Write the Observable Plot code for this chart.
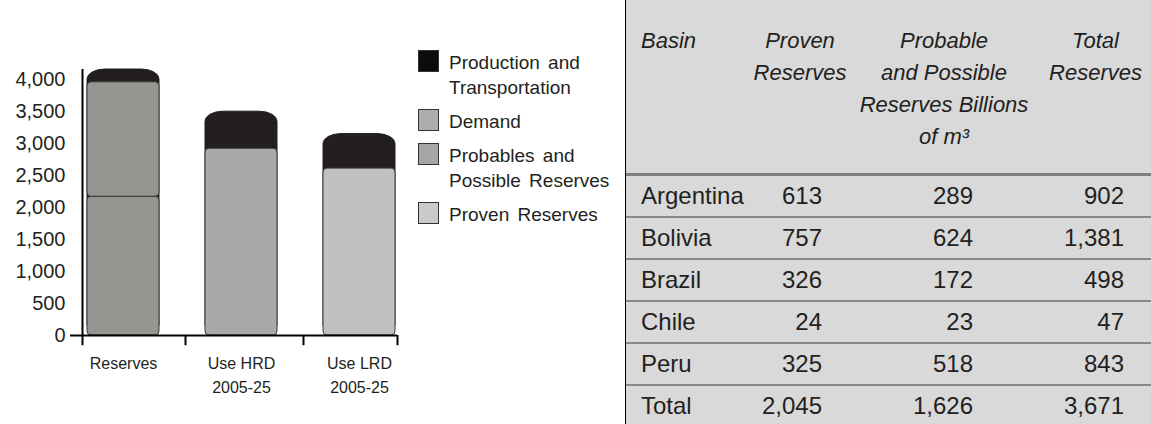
<!DOCTYPE html>
<html><head><meta charset="utf-8">
<script src="https://cdn.jsdelivr.net/npm/d3@7"></script>
<script src="https://cdn.jsdelivr.net/npm/@observablehq/plot@0.6"></script>
<style>
body{margin:0;background:#fff;font-family:"Liberation Sans",Arial,sans-serif;color:#231f20}
#wrap{position:relative;width:1151px;height:424px;overflow:hidden;background:#fff}
#chart{position:absolute;left:0;top:0}
#legend{position:absolute;left:418px;top:50px;font-size:19px;line-height:25px;word-spacing:3px}
.item{display:flex;align-items:flex-start;margin-bottom:9px}
.sw{width:21px;height:22px;border:1px solid #333;box-sizing:border-box;margin-right:10px;flex:none}
.lbl{white-space:pre-line}
#tbl{position:absolute;left:625px;top:0;width:526px;height:424px;background:#d9d9d9;border-left:1px solid #000;box-sizing:border-box}
table{border-collapse:separate;border-spacing:0;table-layout:fixed;width:525px}
th{font-style:italic;font-weight:normal;font-size:22px;line-height:32px;vertical-align:top;padding:25px 0 0 0;height:148px;border-bottom:3px solid #7f7f7f;text-align:center;white-space:pre-line}
th.c0{text-align:left;padding-left:15px}
td{font-size:24px;height:40px;padding:0;border-bottom:2px solid #888;text-align:right;vertical-align:middle}
td.c0{text-align:left;padding-left:15px}
td.c1{padding-right:26px}
td.c2{padding-right:67px}
td.c3{padding-right:27px}
tr:last-child td{border-bottom:none}
</style>
</head><body>
<div id="wrap">
  <div id="chart"></div>
  <div id="legend"></div>
  <div id="tbl"></div>
</div>
<script>
// ---- chart data (billions of m3) ----
const bars = ["Reserves", "Use HRD\n2005-25", "Use LRD\n2005-25"];
const provenValues = [2170, 0, 0];
const probableValues = [1790, 0, 0];
const demandValues = [0, 2920, 2610];
const productionValues = [200, 580, 540];
const yTicks = [0, 500, 1000, 1500, 2000, 2500, 3000, 3500, 4000];

// legend
const legendLabels = ["Production and\nTransportation", "Demand", "Probables and\nPossible Reserves", "Proven Reserves"];
const legendColors = ["#0d0b0c", "#adadad", "#a6a6a6", "#cacaca"];

// ---- table data ----
const headers = ["Basin", "Proven\nReserves", "Probable\nand Possible\nReserves Billions\nof m³", "Total\nReserves"];
const basins = ["Argentina", "Bolivia", "Brazil", "Chile", "Peru", "Total"];
const provenRes = [613, 757, 326, 24, 325, 2045];
const probableRes = [289, 624, 172, 23, 518, 1626];
const totalRes = [902, 1381, 498, 47, 843, 3671];

// build segments
const segments = [];
bars.forEach((b, i) => {
  if (provenValues[i]) segments.push({bar: b, series: "Proven Reserves", value: provenValues[i]});
  if (probableValues[i]) segments.push({bar: b, series: "Probables and Possible Reserves", value: probableValues[i]});
  if (demandValues[i]) segments.push({bar: b, series: "Demand", value: demandValues[i]});
});
const totals = bars.map((b, i) => ({bar: b, total: provenValues[i] + probableValues[i] + demandValues[i] + productionValues[i]}));
const yMax = d3.max(totals, d => d.total);

const chart = Plot.plot({
  width: 410, height: 424,
  marginLeft: 82, marginRight: 13, marginTop: 69, marginBottom: 89,
  style: {fontFamily: "'Liberation Sans', Arial, sans-serif", color: "#231f20", background: "transparent"},
  x: {domain: bars, range: [82, 400], paddingInner: 0.39, paddingOuter: 0.04, axis: null},
  y: {domain: [0, yMax], axis: null},
  color: {domain: bars, range: ["#979592", "#a9a9a9", "#c1c1c1"]},
  marks: [
    Plot.barY(totals, {x: "bar", y: "total", fill: "#231f20", stroke: "#231f20", rx: 18, ry: 10}),
    Plot.barY(segments, {x: "bar", y: "value", fill: "bar", stroke: "#3a3a3a", strokeWidth: 1, rx: 4}),
    Plot.ruleY([0], {stroke: "#000", strokeWidth: 2}),
    Plot.ruleX(bars.slice(0, 1), {dx: -41, y1: -160, y2: yMax, stroke: "#000", strokeWidth: 2}),
    Plot.ruleX(bars.slice(0, -1), {dx: 62, y1: 0, y2: -160, stroke: "#000", strokeWidth: 2}),
    Plot.ruleX(bars.slice(-1), {dx: 38, y1: 0, y2: -160, stroke: "#000", strokeWidth: 2}),
    Plot.axisY({ticks: yTicks, tickSize: 0, tickPadding: 17, tickFormat: d3.format(","), fontSize: 20, label: null}),
    Plot.axisY({ticks: [0], tickSize: 12, tickFormat: () => "", strokeWidth: 2, stroke: "#000", label: null}),
    Plot.axisX({tickSize: 0, tickPadding: 16, fontSize: 16, lineHeight: 1.5, label: null})
  ]
});
document.getElementById("chart").append(chart);

// legend
const lg = document.getElementById("legend");
legendLabels.forEach((l, i) => {
  const it = document.createElement("div"); it.className = "item";
  const sw = document.createElement("div"); sw.className = "sw"; sw.style.background = legendColors[i];
  const tx = document.createElement("div"); tx.className = "lbl"; tx.textContent = l;
  it.append(sw, tx); lg.append(it);
});

// table
const fmt = d3.format(",");
const t = document.createElement("table");
const cg = document.createElement("colgroup");
[126, 96, 192, 111].forEach(w => { const c = document.createElement("col"); c.style.width = w + "px"; cg.append(c); });
t.append(cg);
const hr = document.createElement("tr");
headers.forEach((h, i) => { const th = document.createElement("th"); th.className = "c" + i; th.textContent = h; hr.append(th); });
t.append(hr);
basins.forEach((b, r) => {
  const tr = document.createElement("tr");
  [b, fmt(provenRes[r]), fmt(probableRes[r]), fmt(totalRes[r])].forEach((v, i) => {
    const td = document.createElement("td"); td.className = "c" + i; td.textContent = v; tr.append(td);
  });
  t.append(tr);
});
document.getElementById("tbl").append(t);
</script>
</body></html>
